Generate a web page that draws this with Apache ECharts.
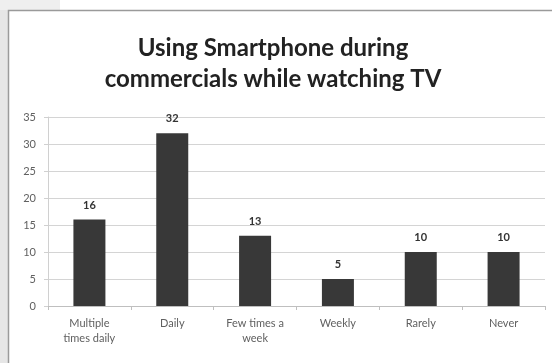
<!DOCTYPE html>
<html>
<head>
<meta charset="utf-8">
<script src="https://cdn.jsdelivr.net/npm/echarts@6/dist/echarts.min.js"></script>
<style>
  html, body { margin: 0; padding: 0; background: #fff; }
  #charts { width: 552px; height: 363px; }
</style>
</head>
<body>
<div id="charts"></div>
<script>
const categories = ["Multiple\ntimes daily", "Daily", "Few times a\nweek", "Weekly", "Rarely", "Never"];
const values = [16, 32, 13, 5, 10, 10];
const yTicks = { min: 0, max: 35, interval: 5 };

const chart = echarts.init(document.getElementById("charts"));

const option = {
  backgroundColor: "#fff",
  animation: false,
  graphic: [
    // grey strip left of the frame
    { type: "rect", left: 0, top: 0, shape: { width: 8, height: 363 }, style: { fill: "#e6e6e6" }, z: -1 },
    { type: "rect", left: 0, top: 0, shape: { width: 60, height: 10 }, style: { fill: "#efefef" }, z: -1 },
    // chart frame
    { type: "rect", shape: { x: 8.5, y: 10.5, width: 560, height: 380 }, style: { fill: "none", stroke: "#9a9a9a", lineWidth: 1.5 }, z: 0 }
  ],
  title: {
    text: "Using Smartphone during\ncommercials while watching TV",
    left: 268,
    textAlign: "center",
    top: 28,
    textStyle: { fontFamily: "Lato", fontWeight: "bold", fontSize: 24, color: "#222", lineHeight: 31 }
  },
  grid: { left: 48, right: 7, top: 117, bottom: 57, containLabel: false },
  xAxis: {
    type: "category",
    data: categories,
    axisLine: { lineStyle: { color: "#bfbfbf" } },
    axisTick: { show: true, alignWithLabel: false, length: 4, lineStyle: { color: "#bfbfbf" } },
    axisLabel: { color: "#606060", fontFamily: "Lato", fontSize: 11, lineHeight: 15, margin: 10 }
  },
  yAxis: {
    type: "value",
    min: yTicks.min,
    max: yTicks.max,
    interval: yTicks.interval,
    axisLine: { show: true, lineStyle: { color: "#d0d0d0" } },
    axisTick: { show: true, length: 4, lineStyle: { color: "#d0d0d0" } },
    axisLabel: { color: "#606060", fontFamily: "Lato", fontSize: 11, margin: 12 },
    splitLine: { lineStyle: { color: "#d4d4d4" } }
  },
  series: [{
    type: "bar",
    data: values,
    barWidth: 32,
    itemStyle: { color: "#383838" },
    label: {
      show: true,
      position: "top",
      distance: 9,
      color: "#333",
      fontFamily: "Lato",
      fontWeight: "bold",
      fontSize: 11
    }
  }]
};

chart.setOption(option);
</script>
</body>
</html>
